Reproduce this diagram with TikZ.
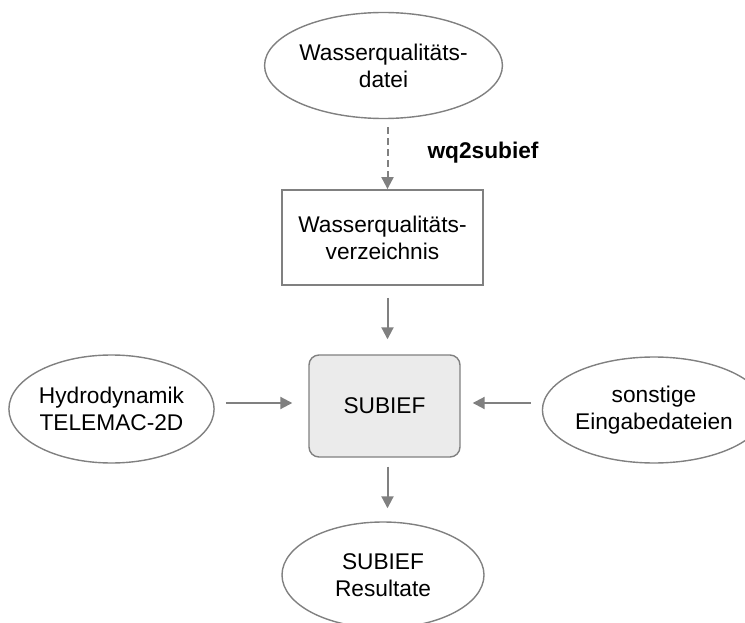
\documentclass[tikz,border=0pt]{standalone}
\usepackage{fontspec}
\setmainfont{Liberation Sans}
\usetikzlibrary{shapes.geometric,arrows.meta}
\definecolor{lgray}{HTML}{808080}
\definecolor{boxfill}{HTML}{EBEBEB}
\begin{document}
\begin{tikzpicture}[x=1pt,y=-1pt,
  txt/.style={font=\fontsize{22.7}{27}\selectfont, align=center, text=black},
  ell/.style={txt, ellipse, draw=lgray, line width=1.4pt, inner sep=0pt, minimum width=201pt, minimum height=106pt},
  rectbox/.style={txt, rectangle, draw=lgray, line width=1.8pt, inner sep=0pt, minimum width=201pt, minimum height=95pt},
  mainbox/.style={txt, rectangle, rounded corners=10pt, draw=lgray, fill=boxfill, line width=1.4pt, inner sep=0pt, minimum width=151pt, minimum height=102pt},
  arr/.style={draw=lgray, line width=2pt, -{Triangle[length=12pt,width=12pt]}, color=lgray}
]
\useasboundingbox (0,0) rectangle (745,623);
\clip (0,0) rectangle (745,623);
\node[ell] (wqd) at (383.5,65.5) {Wasserqualitäts-\\datei};
\node[rectbox] (wqv) at (382.5,237.5) {Wasserqualitäts-\\verzeichnis};
\node[mainbox] (sub) at (384.5,406) {SUBIEF};
\node[ell, minimum height=108pt] (hyd) at (111.5,409) {Hydrodynamik\\TELEMAC-2D};
\node[ell, minimum width=202pt] (son) at (654,410) {sonstige\\Eingabedateien};
\node[ell, minimum width=202pt] (res) at (383,575) {SUBIEF\\Resultate};
\node[txt, font=\fontsize{22.7}{27}\selectfont\bfseries] (lbl) at (483,153) {wq2subief};
\coordinate (vx) at (387.5,0);
\coordinate (hy) at (0,403);
\draw[arr, dashed, dash pattern=on 7pt off 4pt, shorten <=8pt] (wqd.south -| vx) -- (wqv.north -| vx);
\draw[arr, shorten <=12pt, shorten >=15pt] (wqv.south -| vx) -- (sub.north -| vx);
\draw[arr, shorten <=9pt, shorten >=13pt] (sub.south -| vx) -- (res.north -| vx);
\draw[arr, shorten <=11pt, shorten >=16pt] (hyd.east |- hy) -- (sub.west |- hy);
\draw[arr, shorten <=11pt, shorten >=12pt] (son.west |- hy) -- (sub.east |- hy);
\end{tikzpicture}
\end{document}
